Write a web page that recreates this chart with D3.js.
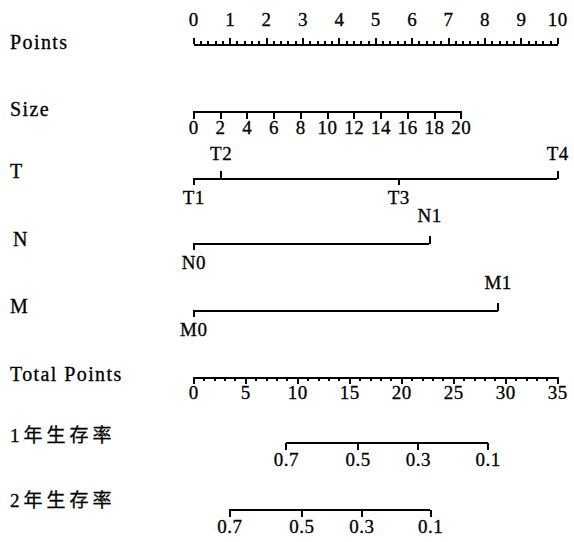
<!DOCTYPE html>
<html>
<head>
<meta charset="utf-8">
<script src="https://cdn.jsdelivr.net/npm/d3@7"></script>
<style>
  html, body { margin: 0; padding: 0; background: #fff; }
  svg { display: block; }
</style>
</head>
<body>
<svg id="chart" width="574" height="542"></svg>
<script>
// Nomogram: points contributed by each predictor, total points, survival.
const rowNames = ["Points", "Size", "T", "N", "M", "Total Points", "1年生存率", "2年生存率"];

const pointsTicks = [0, 1, 2, 3, 4, 5, 6, 7, 8, 9, 10];

const sizeTicks = [0, 2, 4, 6, 8, 10, 12, 14, 16, 18, 20];
const sizeDomain = [0, 20];
const sizePointsRange = [0, 7.35];          // points at size 0 and size 20

const tLevels = ["T1", "T2", "T3", "T4"];
const tPoints = [0, 0.75, 5.63, 10];
const tAbove = [false, true, false, true];

const nLevels = ["N0", "N1"];
const nPoints = [0, 6.48];
const nAbove = [false, true];

const mLevels = ["M0", "M1"];
const mPoints = [0, 8.36];
const mAbove = [false, true];

const totalTicks = [0, 5, 10, 15, 20, 25, 30, 35];

const surv1Labels = ["0.7", "0.5", "0.3", "0.1"];
const surv1Total = [8.91, 15.8, 21.6, 28.3];

const surv2Labels = ["0.7", "0.5", "0.3", "0.1"];
const surv2Total = [3.46, 10.4, 16.15, 22.76];

// ---- layout ----
const SERIF = "'Liberation Serif', 'Times New Roman', Tinos, 'DejaVu Serif', serif";
const left = 193.3, right = 557.3;
const rowY = [44, 111, 179, 244, 311, 377, 443, 510];
const nameY = [44, 111, 173, 241, 308, 376, 438, 503];

const svg = d3.select("#chart");

const xPoints = d3.scaleLinear().domain([0, 10]).range([left, right]);
const xTotal = d3.scaleLinear().domain([0, 35]).range([left, right]);

// row names
svg.selectAll("text.row-name")
  .data(rowNames)
  .join("text")
  .attr("class", "row-name")
  .attr("x", (d, i) => (i === 3 ? 13 : 10))
  .attr("y", (d, i) => nameY[i])
  .attr("dominant-baseline", "middle")
  .style("font-family", (d, i) => i >= 6 ? SERIF + ", 'Noto Sans CJK SC'" : SERIF)
  .style("font-size", (d, i) => i >= 6 ? "19px" : "20px")
  .style("letter-spacing", (d, i) => i >= 6 ? "4px" : "1.4px")
  .style("fill", "#000")
  .style("stroke", "#000")
  .style("stroke-width", "0.3px")
  .text(d => d);

function gAt(y) {
  return svg.append("g").attr("transform", `translate(0,${y})`);
}

// Uniform styling for every axis group
function styleAxis(g) {
  g.attr("font-family", null).attr("font-size", null);
  g.selectAll("path, line")
    .attr("stroke", "#000").attr("stroke-width", 2).attr("shape-rendering", "crispEdges");
  g.selectAll("text")
    .style("font-family", SERIF)
    .style("font-size", "19px")
    .style("letter-spacing", "0.5px")
    .style("stroke", "#000")
    .style("stroke-width", "0.3px")
    .attr("fill", "#000");
  return g;
}

// Points axis: minor ticks every 0.2, labelled ticks every 1
styleAxis(gAt(rowY[0]).call(
  d3.axisTop(xPoints).tickValues(d3.range(0, 10.001, 0.2).filter(v => Math.abs(v - Math.round(v)) > 1e-6))
    .tickSize(3).tickSizeOuter(0).tickFormat("")
));
styleAxis(gAt(rowY[0]).call(
  d3.axisTop(xPoints).tickValues(pointsTicks).tickSize(6).tickSizeOuter(0).tickPadding(12)
    .tickFormat(d3.format("d"))
));

// Size axis
const xSize = d3.scaleLinear().domain(sizeDomain).range(sizePointsRange.map(xPoints));
styleAxis(gAt(rowY[1]).call(
  d3.axisBottom(xSize).tickValues(sizeTicks).tickSize(8).tickSizeOuter(0).tickPadding(2)
    .tickFormat(d3.format("d"))
));

// Categorical rows: labels alternately above and below the line
function categorical(y, levels, pts, above, padUp) {
  const up = levels.map((l, i) => i).filter(i => above[i]);
  const down = levels.map((l, i) => i).filter(i => !above[i]);
  const ext = d3.extent(pts);
  gAt(y).append("path")
    .attr("d", `M${xPoints(ext[0])},0H${xPoints(ext[1])}`)
    .attr("fill", "none")
    .attr("stroke", "#000").attr("stroke-width", 2).attr("shape-rendering", "crispEdges");
  const a = styleAxis(gAt(y).call(
    d3.axisTop(xPoints).tickValues(up.map(i => pts[i])).tickSize(8).tickSizeOuter(0).tickPadding(padUp)
      .tickFormat(v => levels[pts.indexOf(v)])
  ));
  a.select(".domain").remove();
  const b = styleAxis(gAt(y).call(
    d3.axisBottom(xPoints).tickValues(down.map(i => pts[i])).tickSize(6).tickSizeOuter(0).tickPadding(6)
      .tickFormat(v => levels[pts.indexOf(v)])
  ));
  b.select(".domain").remove();
}
categorical(rowY[2], tLevels, tPoints, tAbove, 11);
categorical(rowY[3], nLevels, nPoints, nAbove, 14);
categorical(rowY[4], mLevels, mPoints, mAbove, 14);

// Total points axis: minor ticks every 1, labelled ticks every 5
styleAxis(gAt(rowY[5]).call(
  d3.axisBottom(xTotal).tickValues(d3.range(0, 36, 1).filter(v => v % 5 !== 0))
    .tickSize(4).tickSizeOuter(0).tickFormat("")
));
styleAxis(gAt(rowY[5]).call(
  d3.axisBottom(xTotal).tickValues(totalTicks).tickSize(7).tickSizeOuter(0).tickPadding(2)
    .tickFormat(d3.format("d"))
));

// Survival axes, placed on the total-points scale
function survival(y, labels, totals) {
  gAt(y).append("path")
    .attr("d", `M${xTotal(d3.min(totals))},0H${xTotal(d3.max(totals))}`)
    .attr("fill", "none").attr("stroke", "#000").attr("stroke-width", 2).attr("shape-rendering", "crispEdges");
  const g = styleAxis(gAt(y).call(
    d3.axisBottom(xTotal).tickValues(totals).tickSize(7).tickSizeOuter(0).tickPadding(3)
      .tickFormat(v => labels[totals.indexOf(v)])
  ));
  g.select(".domain").remove();
}
survival(rowY[6], surv1Labels, surv1Total);
survival(rowY[7], surv2Labels, surv2Total);
</script>
</body>
</html>
